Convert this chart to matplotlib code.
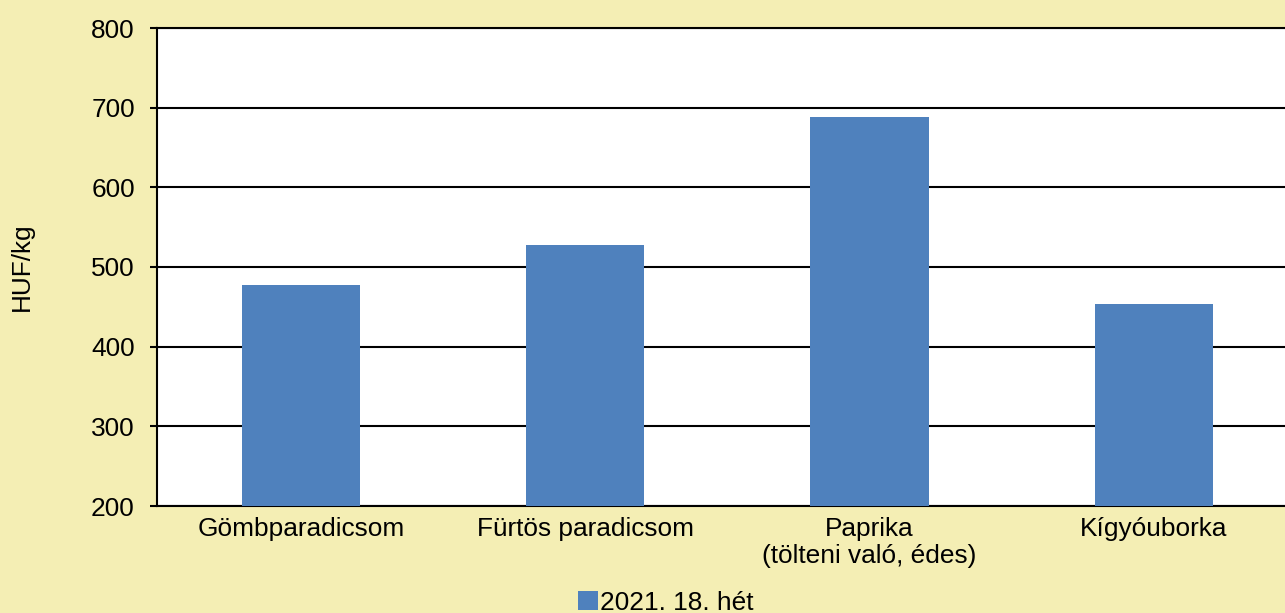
import matplotlib
matplotlib.use("Agg")
import matplotlib.pyplot as plt

plt.rcParams['font.family'] = ['Liberation Sans', 'DejaVu Sans']

categories = ["Gömbparadicsom", "Fürtös paradicsom", "Paprika\n(tölteni való, édes)", "Kígyóuborka"]
values = [478, 528, 688, 453]
series_label = "2021. 18. hét"
y_ticks = [200, 300, 400, 500, 600, 700, 800]

bg = "#F4EEB4"
bar_color = "#4F81BD"
fs = 18.9

fig = plt.figure(figsize=(12.85, 6.13), dpi=100, facecolor=bg)
ax = fig.add_axes([157 / 1285, 107 / 613, 1137 / 1285, 478 / 613])
ax.set_facecolor("white")

x = range(len(categories))
ax.bar(x, values, width=0.416, color=bar_color, zorder=3, label=series_label)

ax.set_xlim(-0.507, len(categories) - 0.507)
ax.set_ylim(200, 800)
ax.set_yticks(y_ticks)
ax.set_xticks(list(x))
ax.set_xticklabels(categories, fontsize=fs, linespacing=1.15)
ax.tick_params(axis="x", length=0, pad=8)
ax.tick_params(axis="y", length=5, width=1.5, pad=11, labelsize=fs)

ax.grid(axis="y", color="black", linewidth=1.5, zorder=1)
ax.set_axisbelow(True)
ax.spines["right"].set_visible(False)
for side in ["left", "bottom", "top"]:
    ax.spines[side].set_linewidth(1.5)
    ax.spines[side].set_color("black")

fig.text(22 / 1285, 1 - 267 / 613, "HUF/kg", rotation=90, ha="center", va="center", fontsize=fs)

fig.legend(loc="center", bbox_to_anchor=(666 / 1285, 1 - 603 / 613), frameon=False,
           fontsize=fs, handlelength=0.75, handleheight=0.75, handletextpad=0.1)

fig.savefig("out.png", dpi=100, facecolor=bg)
